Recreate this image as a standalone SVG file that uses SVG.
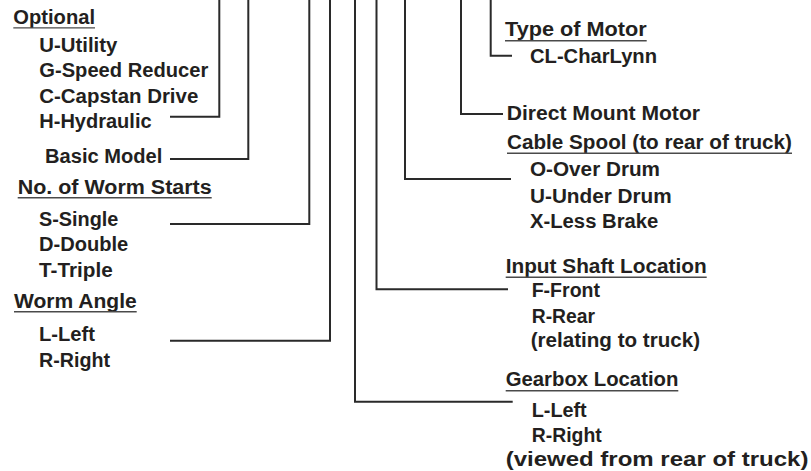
<svg xmlns="http://www.w3.org/2000/svg" width="811" height="471" viewBox="0 0 811 471">
<style>
text{font-family:"Liberation Sans",Arial,Helvetica,sans-serif;font-weight:bold;font-size:20px;fill:#231f20}
.ul{stroke:#4a4a4a;stroke-width:1.4;fill:none}
.c{stroke:#2a2a2a;stroke-width:2;fill:none;stroke-linejoin:miter}
</style>
<rect width="811" height="471" fill="#fff"/>
<g id="connectors">
<path class="c" d="M170,116.7H219.3V0"/>
<path class="c" d="M170,159H248.3V0"/>
<path class="c" d="M170,224H309.3V0"/>
<path class="c" d="M170,340.7H330V0"/>
<path class="c" d="M512.7,401.7H355V0"/>
<path class="c" d="M508,289.3H376.5V0"/>
<path class="c" d="M511,179H405V0"/>
<path class="c" d="M503,114H461V0"/>
<path class="c" d="M512,55.7H490.7V0"/>
</g>
<g id="optional">
<text x="13.3" y="24" textLength="81.7" lengthAdjust="spacingAndGlyphs">Optional</text>
<line class="ul" x1="13.3" y1="27.9" x2="95" y2="27.9"/>
<text x="39.3" y="51.5" textLength="78" lengthAdjust="spacingAndGlyphs">U-Utility</text>
<text x="39.3" y="77" textLength="169" lengthAdjust="spacingAndGlyphs">G-Speed Reducer</text>
<text x="39.3" y="102.5" textLength="159" lengthAdjust="spacingAndGlyphs">C-Capstan Drive</text>
<text x="39.3" y="128" textLength="112.3" lengthAdjust="spacingAndGlyphs">H-Hydraulic</text>
</g>
<g id="basic-model">
<text x="45" y="163" textLength="117.3" lengthAdjust="spacingAndGlyphs">Basic Model</text>
</g>
<g id="worm-starts">
<text x="17.7" y="193.5" textLength="194" lengthAdjust="spacingAndGlyphs">No. of Worm Starts</text>
<line class="ul" x1="17.7" y1="197.7" x2="211.7" y2="197.7"/>
<text x="39" y="225.5" textLength="79.3" lengthAdjust="spacingAndGlyphs">S-Single</text>
<text x="39" y="250.5" textLength="89.3" lengthAdjust="spacingAndGlyphs">D-Double</text>
<text x="39" y="276.5" textLength="73.7" lengthAdjust="spacingAndGlyphs">T-Triple</text>
</g>
<g id="worm-angle">
<text x="14" y="308" textLength="122.7" lengthAdjust="spacingAndGlyphs">Worm Angle</text>
<line class="ul" x1="14" y1="311.7" x2="136.7" y2="311.7"/>
<text x="39" y="341" textLength="56" lengthAdjust="spacingAndGlyphs">L-Left</text>
<text x="39" y="367" textLength="71" lengthAdjust="spacingAndGlyphs">R-Right</text>
</g>
<g id="type-of-motor">
<text x="505" y="36" textLength="141.7" lengthAdjust="spacingAndGlyphs">Type of Motor</text>
<line class="ul" x1="505" y1="40.7" x2="646.7" y2="40.7"/>
<text x="530" y="63" textLength="127" lengthAdjust="spacingAndGlyphs">CL-CharLynn</text>
</g>
<g id="direct-mount">
<text x="506.7" y="120" textLength="193.3" lengthAdjust="spacingAndGlyphs">Direct Mount Motor</text>
</g>
<g id="cable-spool">
<text x="507" y="148.5" textLength="285" lengthAdjust="spacingAndGlyphs">Cable Spool (to rear of truck)</text>
<line class="ul" x1="507" y1="153.3" x2="792" y2="153.3"/>
<text x="530" y="176" textLength="130" lengthAdjust="spacingAndGlyphs">O-Over Drum</text>
<text x="530" y="203" textLength="141.7" lengthAdjust="spacingAndGlyphs">U-Under Drum</text>
<text x="530" y="228" textLength="128.3" lengthAdjust="spacingAndGlyphs">X-Less Brake</text>
</g>
<g id="input-shaft">
<text x="505.7" y="273" textLength="201" lengthAdjust="spacingAndGlyphs">Input Shaft Location</text>
<line class="ul" x1="505.7" y1="277.3" x2="706.7" y2="277.3"/>
<text x="531.7" y="297" textLength="68.3" lengthAdjust="spacingAndGlyphs">F-Front</text>
<text x="531.7" y="322.5" textLength="63.3" lengthAdjust="spacingAndGlyphs">R-Rear</text>
<text x="530.7" y="347" textLength="169.3" lengthAdjust="spacingAndGlyphs">(relating to truck)</text>
</g>
<g id="gearbox-location">
<text x="505.7" y="386" textLength="172.7" lengthAdjust="spacingAndGlyphs">Gearbox Location</text>
<line class="ul" x1="505.7" y1="390.7" x2="678.3" y2="390.7"/>
<text x="531.7" y="416.5" textLength="55" lengthAdjust="spacingAndGlyphs">L-Left</text>
<text x="531.7" y="441.5" textLength="70" lengthAdjust="spacingAndGlyphs">R-Right</text>
<text x="505.7" y="466" textLength="302.7" lengthAdjust="spacingAndGlyphs">(viewed from rear of truck)</text>
</g>
</svg>
